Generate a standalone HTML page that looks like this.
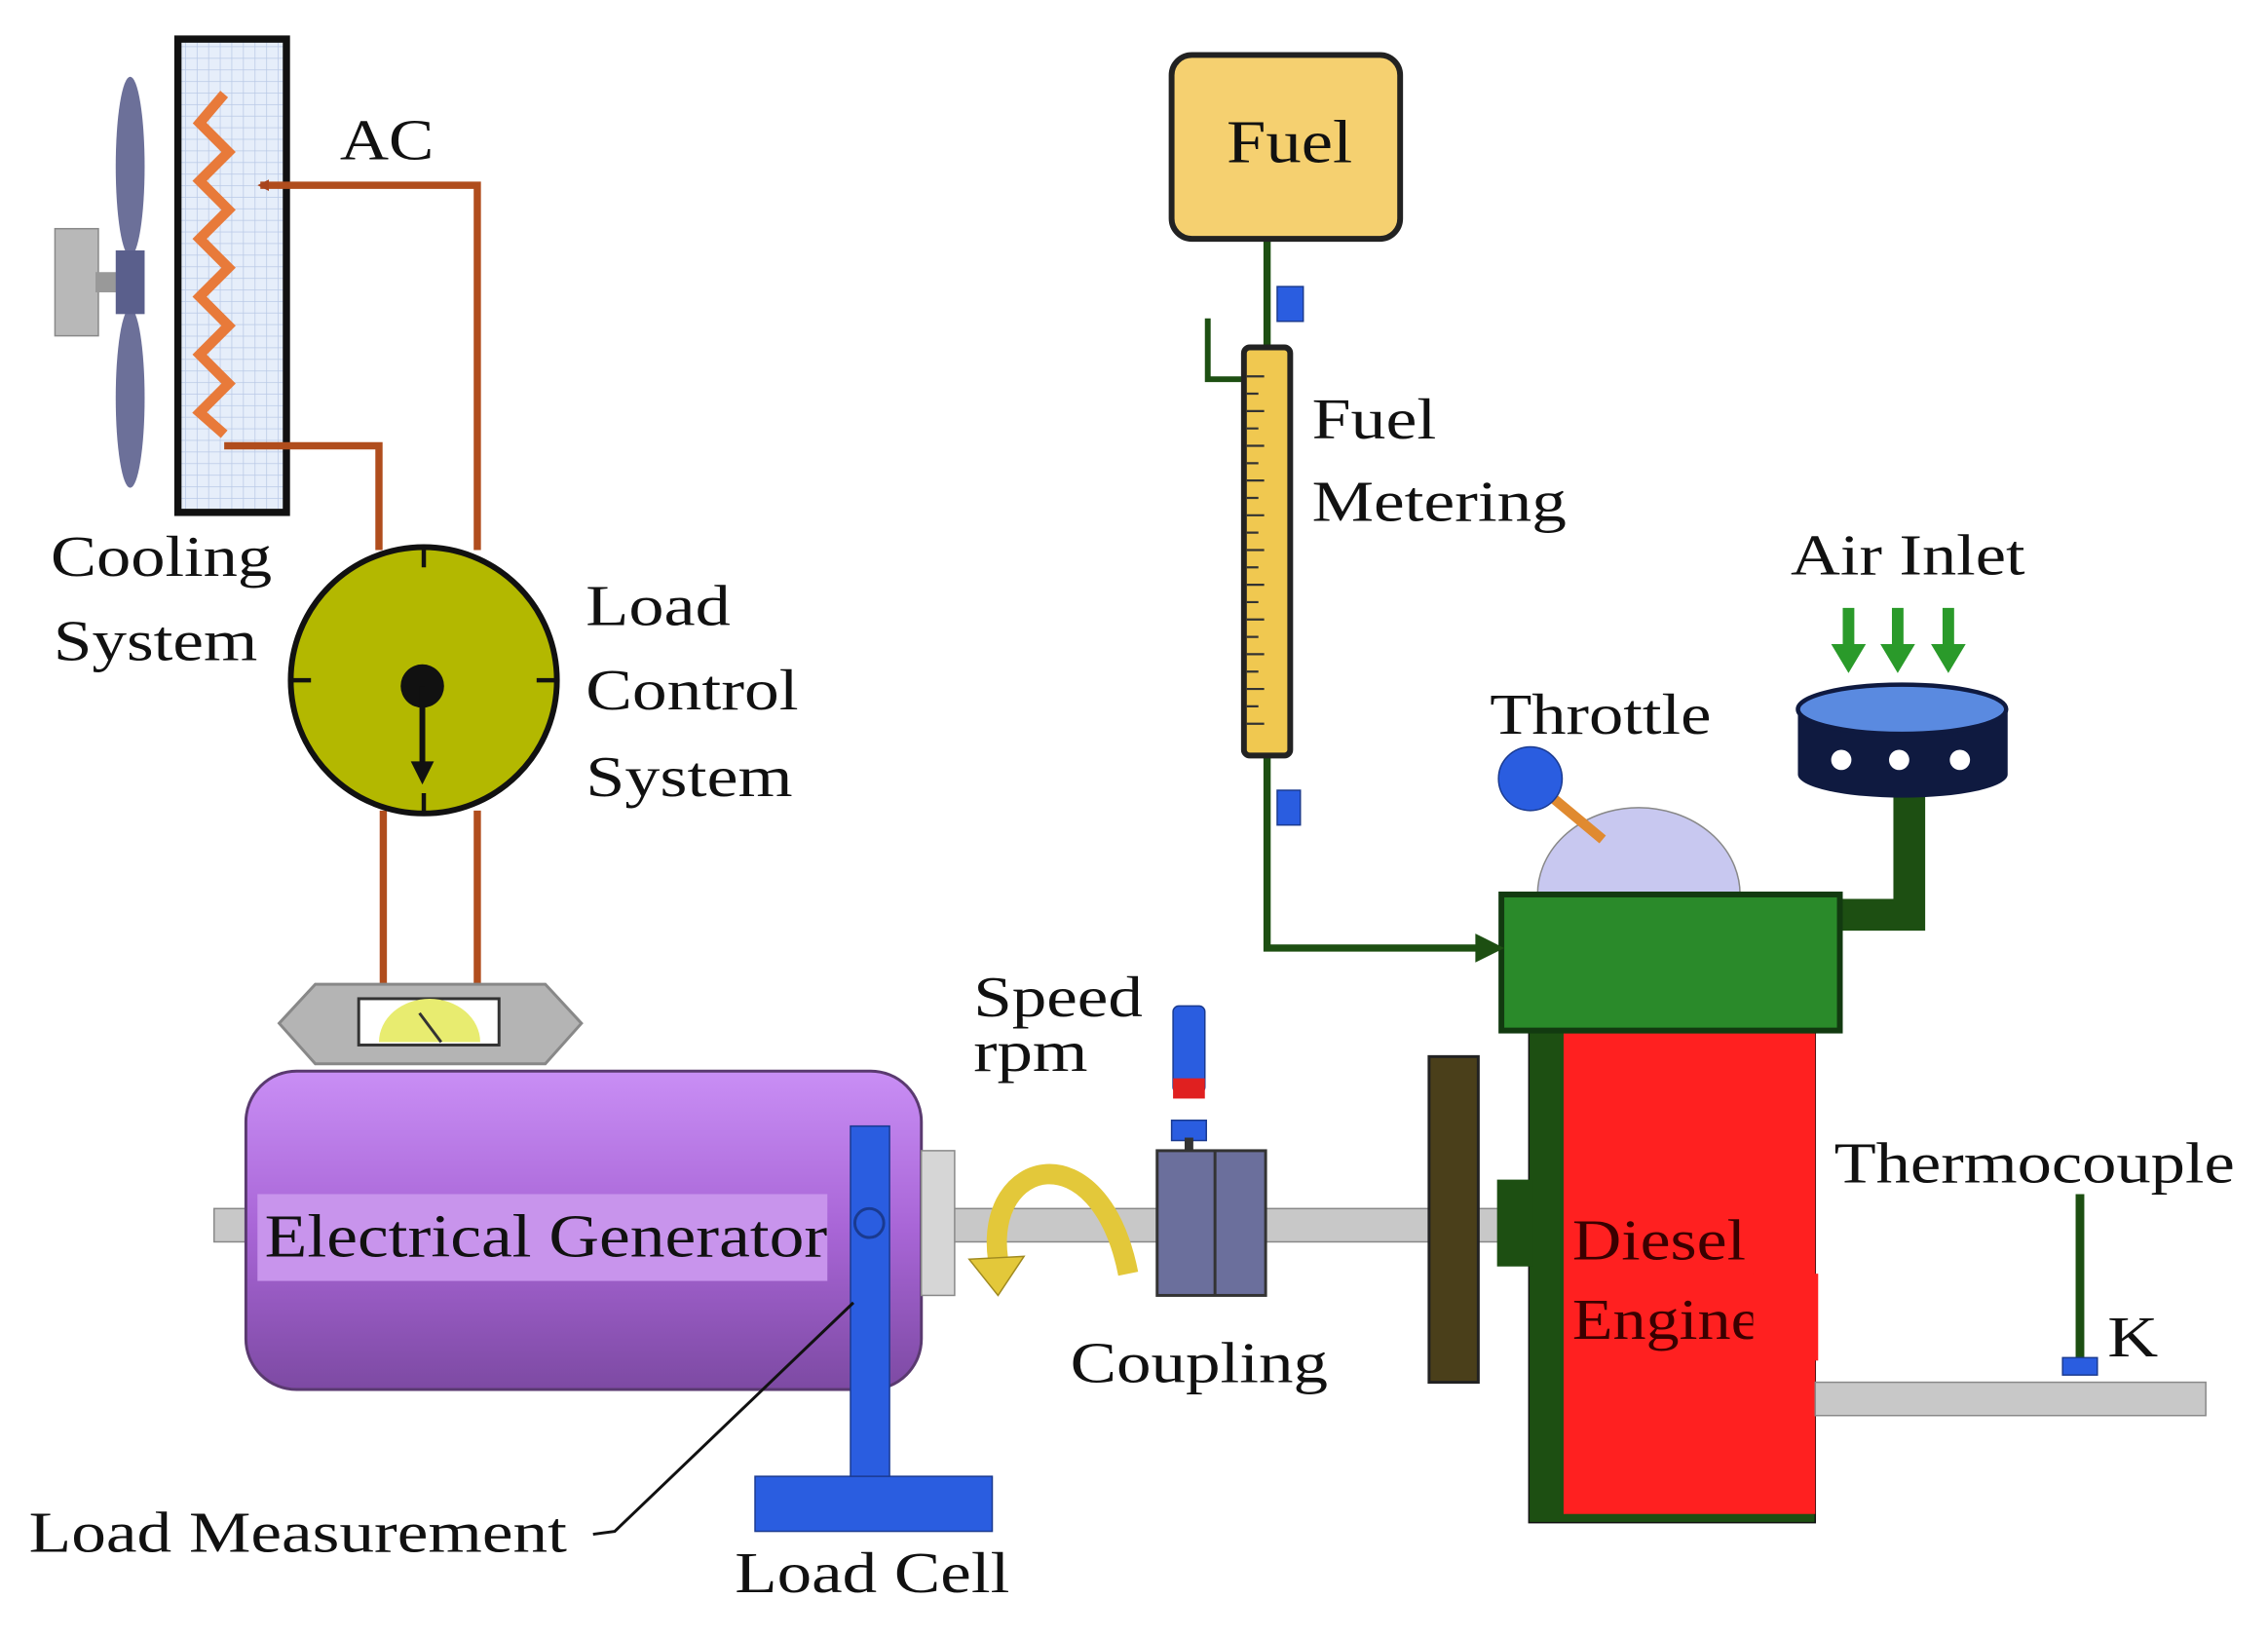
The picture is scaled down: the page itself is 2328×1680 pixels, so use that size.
<!DOCTYPE html>
<html><head><meta charset="utf-8"><style>
html,body{margin:0;padding:0;background:#fff;}
svg{display:block;}
text{font-family:"Liberation Serif",serif;fill:#111;}
</style></head><body>
<svg width="2328" height="1680" viewBox="0 0 1568 1131" preserveAspectRatio="none" xmlns="http://www.w3.org/2000/svg">
<defs>
<linearGradient id="gen" x1="0" y1="0" x2="0" y2="1"><stop offset="0" stop-color="#c98ef5"/><stop offset="0.5" stop-color="#a865d6"/><stop offset="1" stop-color="#7d4aa3"/></linearGradient>
<pattern id="grid" width="8" height="8" patternUnits="userSpaceOnUse"><rect width="8" height="8" fill="#e6eefa"/><path d="M8 0H0V8" fill="none" stroke="#b9c9e6" stroke-width="1"/></pattern>
<marker id="ab" markerWidth="8" markerHeight="8" refX="6" refY="4" orient="auto" markerUnits="userSpaceOnUse"><path d="M0,0 L8,4 L0,8z" fill="#a8451c"/></marker>
</defs>
<rect width="1568" height="1131" fill="#fff"/>
<rect x="38" y="158" width="30" height="74" fill="#b8b8b8" stroke="#888"/>
<rect x="66" y="188" width="16" height="14" fill="#999"/>
<ellipse cx="90" cy="115" rx="10" ry="62" fill="#6c7099"/>
<ellipse cx="90" cy="275" rx="10" ry="62" fill="#6c7099"/>
<rect x="80" y="173" width="20" height="44" fill="#5a5f8c"/>
<rect x="123" y="27" width="75" height="327" fill="url(#grid)" stroke="#111" stroke-width="5"/>
<path d="M155 65 L138 85 L158 105 L138 125 L158 145 L138 165 L158 185 L138 205 L158 225 L138 245 L158 265 L138 285 L155 300" fill="none" stroke="#e87a3a" stroke-width="7"/>
<g stroke="#b04d1d" stroke-width="5" fill="none">
<path d="M330 380 V128 H180" marker-end="url(#ab)"/>
<path d="M155 308 H262 V380"/>
<path d="M265 560 V680 M330 560 V680"/>
</g>
<text x="235" y="110" font-size="40" textLength="65" lengthAdjust="spacingAndGlyphs">AC</text>
<circle cx="293" cy="470" r="92" fill="#b3b800" stroke="#111" stroke-width="4"/>
<g stroke="#111" stroke-width="3"><path d="M293 378v14M293 548v14M201 470h14M371 470h14"/></g>
<circle cx="292" cy="474" r="15" fill="#111"/>
<path d="M292 474 V530" stroke="#111" stroke-width="4"/>
<path d="M284 526 L292 542 L300 526z" fill="#111"/>
<text x="35" y="398" font-size="40" textLength="153" lengthAdjust="spacingAndGlyphs">Cooling</text>
<text x="37" y="456" font-size="40" textLength="141" lengthAdjust="spacingAndGlyphs">System</text>
<text x="405" y="432" font-size="40" textLength="100" lengthAdjust="spacingAndGlyphs">Load</text>
<text x="405" y="490" font-size="40" textLength="147" lengthAdjust="spacingAndGlyphs">Control</text>
<text x="405" y="550" font-size="40" textLength="143" lengthAdjust="spacingAndGlyphs">System</text>
<rect x="148" y="835" width="892" height="23" fill="#c8c8c8" stroke="#888"/>
<polygon points="193,707 218,680 377,680 402,707 377,735 218,735" fill="#b4b4b4" stroke="#888" stroke-width="2"/>
<rect x="248" y="690" width="97" height="32" fill="#fff" stroke="#333" stroke-width="2"/>
<path d="M262 720 A35 30 0 0 1 332 720z" fill="#e8ec70"/>
<path d="M290 700 L305 720" stroke="#333" stroke-width="2"/>
<rect x="170" y="740" width="467" height="220" rx="35" fill="url(#gen)" stroke="#5a3a70" stroke-width="2"/>
<rect x="178" y="825" width="394" height="60" fill="#c894ec"/>
<text x="183" y="868" font-size="42" textLength="389" lengthAdjust="spacingAndGlyphs">Electrical Generator</text>
<rect x="637" y="795" width="23" height="100" fill="#d6d6d6" stroke="#888"/>
<rect x="588" y="778" width="27" height="245" fill="#2a5de0" stroke="#1a3a90"/>
<rect x="522" y="1020" width="164" height="38" fill="#2a5de0" stroke="#1a3a90"/>
<circle cx="601" cy="845" r="10" fill="none" stroke="#1a3a90" stroke-width="2"/>
<path d="M410 1060 L425 1058 L590 900" stroke="#111" stroke-width="2" fill="none"/>
<text x="20" y="1072" font-size="40" textLength="372" lengthAdjust="spacingAndGlyphs">Load Measurement</text>
<text x="508" y="1100" font-size="40" textLength="190" lengthAdjust="spacingAndGlyphs">Load Cell</text>
<path d="M690 870 C680 800, 760 780, 780 880" fill="none" stroke="#e3c83a" stroke-width="14"/>
<path d="M670 870 L690 895 L708 868z" fill="#e3c83a" stroke="#a08a20"/>
<text x="673" y="702" font-size="40" textLength="117" lengthAdjust="spacingAndGlyphs">Speed</text>
<text x="673" y="740" font-size="40" textLength="79" lengthAdjust="spacingAndGlyphs">rpm</text>
<rect x="811" y="695" width="22" height="60" rx="4" fill="#2a5de0" stroke="#1a3a90"/>
<rect x="811" y="745" width="22" height="14" fill="#e02020"/>
<rect x="810" y="774" width="24" height="14" fill="#2a5de0" stroke="#1a3a90"/>
<rect x="819" y="786" width="6" height="10" fill="#333"/>
<rect x="800" y="795" width="75" height="100" fill="#6b6f9c" stroke="#333" stroke-width="2"/>
<path d="M840 795 V895" stroke="#333" stroke-width="2"/>
<text x="740" y="955" font-size="40" textLength="178" lengthAdjust="spacingAndGlyphs">Coupling</text>
<rect x="988" y="730" width="34" height="225" fill="#4a3f1a" stroke="#222" stroke-width="2"/>
<rect x="1057" y="700" width="198" height="352" fill="#1d4f12" stroke="#111"/>
<rect x="1081" y="714" width="174" height="332" fill="#ff2020"/>
<rect x="1035" y="815" width="25" height="60" fill="#1d4f12"/>
<text x="1087" y="870" font-size="40" textLength="120" lengthAdjust="spacingAndGlyphs" style="fill:#3a0000">Diesel</text>
<text x="1087" y="925" font-size="40" textLength="130" lengthAdjust="spacingAndGlyphs" style="fill:#3a0000">Engine</text>
<rect x="1212" y="880" width="45" height="60" fill="#ff2020"/>
<path d="M1063 618 A70 60 0 0 1 1203 618z" fill="#c8c8f0" stroke="#888"/>
<path d="M1060 540 L1108 580" stroke="#e08a30" stroke-width="7"/>
<circle cx="1058" cy="538" r="22" fill="#2a5de0" stroke="#1a3a90"/>
<text x="1030" y="507" font-size="40" textLength="153" lengthAdjust="spacingAndGlyphs">Throttle</text>
<path d="M1320 550 V632 H1272" fill="none" stroke="#1d4f12" stroke-width="22"/>
<rect x="1038" y="618" width="234" height="94" fill="#2a8a2a" stroke="#123a10" stroke-width="4"/>
<path d="M1243 490 V535 A72 16 0 0 0 1388 535 V490z" fill="#0f1a40"/>
<ellipse cx="1315" cy="490" rx="72" ry="17" fill="#5a8ae0" stroke="#0f1a40" stroke-width="3"/>
<circle cx="1273" cy="525" r="7" fill="#fff"/><circle cx="1313" cy="525" r="7" fill="#fff"/><circle cx="1355" cy="525" r="7" fill="#fff"/>
<g fill="#2a9a2a">
<path d="M1274 420h8v25h8l-12 20-12-20h8z"/><path d="M1308 420h8v25h8l-12 20-12-20h8z"/><path d="M1343 420h8v25h8l-12 20-12-20h8z"/>
</g>
<text x="1238" y="397" font-size="40" textLength="162" lengthAdjust="spacingAndGlyphs">Air Inlet</text>
<path d="M876 165 V655 H1030" fill="none" stroke="#1d4f12" stroke-width="5"/>
<path d="M1020 645 L1040 655 L1020 665z" fill="#1d4f12"/>
<path d="M835 220 V262 H860" fill="none" stroke="#1d4f12" stroke-width="4"/>
<rect x="810" y="38" width="158" height="127" rx="14" fill="#f5d070" stroke="#222" stroke-width="4"/>
<text x="848" y="112" font-size="42" textLength="87" lengthAdjust="spacingAndGlyphs">Fuel</text>
<rect x="883" y="198" width="18" height="24" fill="#2a5de0" stroke="#1a3a90"/>
<rect x="883" y="546" width="16" height="24" fill="#2a5de0" stroke="#1a3a90"/>
<rect x="860" y="240" width="32" height="282" rx="4" fill="#f0c850" stroke="#222" stroke-width="4"/>
<g stroke="#333" stroke-width="1.5">
<path d="M862 260h12M862 272h8M862 284h12M862 296h8M862 308h12M862 320h8M862 332h12M862 344h8M862 356h12M862 368h8M862 380h12M862 392h8M862 404h12M862 416h8M862 428h12M862 440h8M862 452h12M862 464h8M862 476h12M862 488h8M862 500h12"/>
</g>
<text x="907" y="303" font-size="40" textLength="86" lengthAdjust="spacingAndGlyphs">Fuel</text>
<text x="907" y="360" font-size="40" textLength="176" lengthAdjust="spacingAndGlyphs">Metering</text>
<rect x="1255" y="955" width="270" height="23" fill="#c8c8c8" stroke="#888"/>
<path d="M1438 825 V940" stroke="#1d4f12" stroke-width="6"/>
<rect x="1426" y="938" width="24" height="12" fill="#2a5de0" stroke="#1a3a90"/>
<text x="1268" y="817" font-size="40" textLength="277" lengthAdjust="spacingAndGlyphs">Thermocouple</text>
<text x="1457" y="937" font-size="40" textLength="35" lengthAdjust="spacingAndGlyphs">K</text>
</svg>
</body></html>
